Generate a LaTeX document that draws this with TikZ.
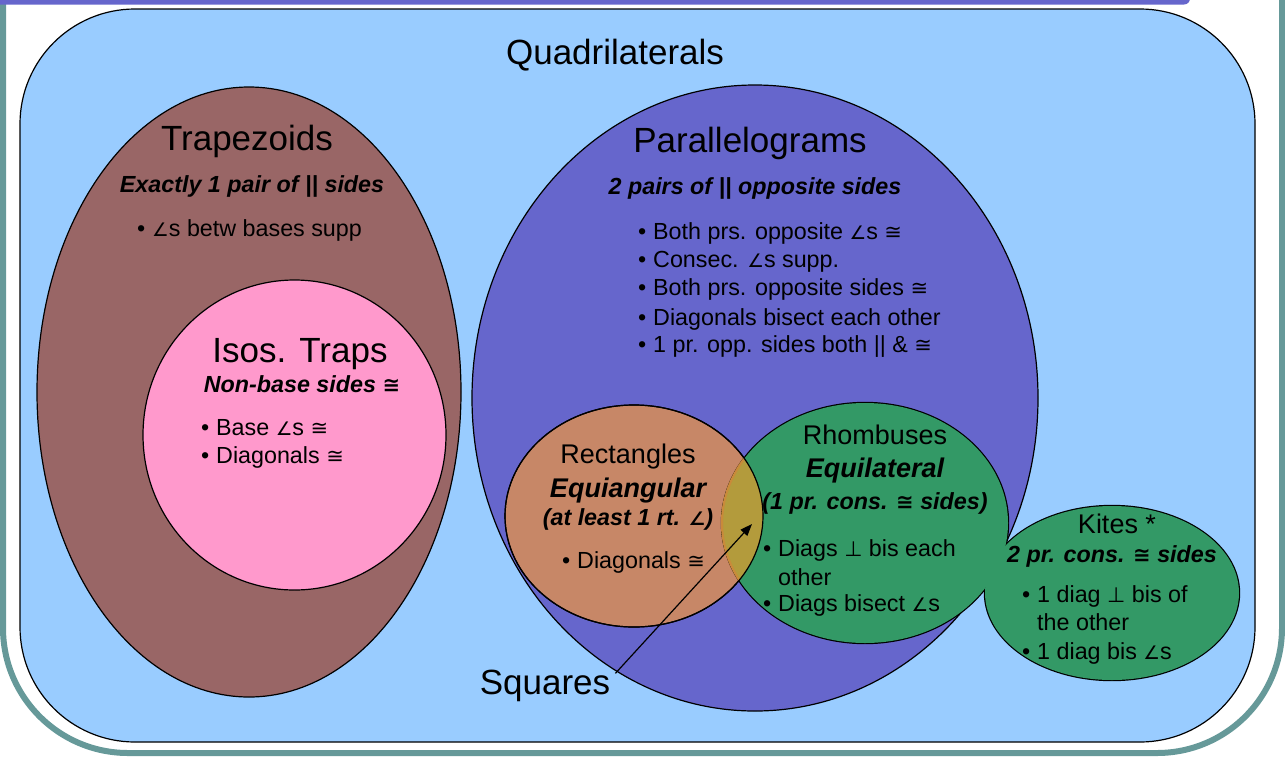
\documentclass[tikz,border=0pt]{standalone}
\usepackage{fontspec}
\setmainfont{Liberation Sans}
\newfontfamily\symf{DejaVu Sans}[Scale=0.9]
\newfontfamily\angf{DejaVu Sans}[Scale=0.8]
\usetikzlibrary{arrows.meta}
\newcommand\Ang{{\angf ∠}}
\newcommand\Cng{{\symf ≅}}
\newcommand\Prp{{\symf ⊥}}
\newcommand\bul{\makebox[15pt][l]{•}}
\newcommand\ind{\hspace*{15pt}}
\definecolor{bluebg}{HTML}{99CCFF}
\definecolor{trapc}{HTML}{996666}
\definecolor{pinkc}{HTML}{FF99CC}
\definecolor{parac}{HTML}{6666CC}
\definecolor{rectc}{HTML}{C78767}
\definecolor{greenc}{HTML}{339966}
\definecolor{lensc}{HTML}{B39B3C}
\definecolor{lensb}{HTML}{C98A3A}
\definecolor{tealc}{HTML}{669999}
\tikzset{
  ttl/.style={font=\fontsize{35}{40}\selectfont, inner sep=0pt},
  sub/.style={font=\fontsize{27}{32}\selectfont, inner sep=0pt},
  subbi/.style={font=\fontsize{27}{32}\selectfont\bfseries\itshape, inner sep=0pt},
  bi/.style={font=\fontsize{23.3}{28}\selectfont\bfseries\itshape, inner sep=0pt},
  txt/.style={font=\fontsize{23.3}{28}\selectfont, inner sep=0pt, anchor=base west},
  border/.style={draw=black, line width=1.2pt},
  arr/.style={-{Triangle[length=12pt,width=9pt]}, line width=1.2pt},
}
\begin{document}
\begin{tikzpicture}[x=1pt,y=-1pt]
\useasboundingbox (0,0) rectangle (1285,756);
% slide frame
\draw[tealc, line width=6pt, rounded corners=125pt] (3,-60) -- (3,753) -- (1282,753) -- (1282,-60);
\fill[parac, rounded corners=6pt] (-20,-20) rectangle (1190,4.5);
% quadrilaterals box
\draw[border, fill=bluebg, rounded corners=115pt] (20,9) rectangle (1255,742);
% trapezoids
\draw[border, fill=trapc] (249,392) ellipse [x radius=212pt, y radius=305pt];
\draw[border, fill=pinkc] (294.5,435) ellipse [x radius=151.5pt, y radius=155pt];
% parallelograms
\draw[border, fill=parac] (755,398) ellipse [x radius=283pt, y radius=313pt];
% rectangles
\draw[border, fill=rectc] (634,516) ellipse [x radius=129pt, y radius=111pt];
% rhombuses and kites (union outline)
\draw[line width=2.4pt] (865,523) ellipse [x radius=143pt, y radius=120pt];
\draw[line width=2.4pt] (1112,593) ellipse [x radius=127pt, y radius=87pt];
\fill[greenc] (865,523) ellipse [x radius=143pt, y radius=120pt];
\fill[greenc] (1112,593) ellipse [x radius=127pt, y radius=87pt];
% squares lens
\begin{scope}
\clip (634,516) ellipse [x radius=129pt, y radius=111pt];
\fill[lensc] (865,523) ellipse [x radius=143pt, y radius=120pt];
\draw[lensb, line width=2.2pt] (865,523) ellipse [x radius=143pt, y radius=120pt];
\end{scope}
\draw[border] (634,516) ellipse [x radius=129pt, y radius=111pt];

% texts
\node[ttl, anchor=base] (quad) at (615,64.5) {Quadrilaterals};
\node[ttl, anchor=base] (trap) at (247,150) {Trapezoids};
\node[bi, anchor=base] (trapd) at (252,192) {Exactly 1 pair of || sides};
\node[txt] (trap1) at (137,236) {\bul\Ang s betw bases supp};
\node[ttl, anchor=base] (isos) at (300,362) {Isos. Traps};
\node[bi, anchor=base] (isosd) at (302,392) {Non-base sides \Cng};
\node[txt] (isos1) at (201,435) {\bul Base \Ang s \Cng};
\node[txt] (isos2) at (201,463) {\bul Diagonals \Cng};

\node[ttl, anchor=base] (para) at (750,152) {Parallelograms};
\node[bi, anchor=base] (parad) at (755,194) {2 pairs of || opposite sides};
\node[txt] (para1) at (638,239) {\bul Both prs. opposite \Ang s \Cng};
\node[txt] (para2) at (638,267) {\bul Consec. \Ang s supp.};
\node[txt] (para3) at (638,295) {\bul Both prs. opposite sides \Cng};
\node[txt] (para4) at (638,325) {\bul Diagonals bisect each other};
\node[txt] (para5) at (638,352) {\bul 1 pr. opp. sides both || \& \Cng};

\node[sub, anchor=base] (rect) at (628,463) {Rectangles};
\node[subbi, anchor=base] (rectd) at (628,497) {Equiangular};
\node[bi, anchor=base] (recte) at (628,525) {(at least 1 rt. \Ang)};
\node[txt] (rect1) at (562,568) {\bul Diagonals \Cng};

\node[sub, anchor=base] (rhom) at (875,444) {Rhombuses};
\node[subbi, anchor=base] (rhomd) at (875,477) {Equilateral};
\node[bi, anchor=base] (rhome) at (875,509) {(1 pr. cons. \Cng\ sides)};
\node[txt] (rhom1) at (763,556) {\bul Diags \Prp\ bis each};
\node[txt] (rhom2) at (763,585) {\ind other};
\node[txt] (rhom3) at (763,611) {\bul Diags bisect \Ang s};

\node[sub, anchor=base] (kite) at (1117,533) {Kites *};
\node[bi, anchor=base] (kited) at (1112,562) {2 pr. cons. \Cng\ sides};
\node[txt] (kite1) at (1022,602) {\bul 1 diag \Prp\ bis of};
\node[txt] (kite2) at (1022,630) {\ind the other};
\node[txt] (kite3) at (1022,659) {\bul 1 diag bis \Ang s};

\node[ttl, anchor=base] (sq) at (545,694) {Squares};
\coordinate (sqtip) at (752,524);
\draw[arr] ([shift={(5,4)}]sq.north east) -- (sqtip);
\end{tikzpicture}
\end{document}
